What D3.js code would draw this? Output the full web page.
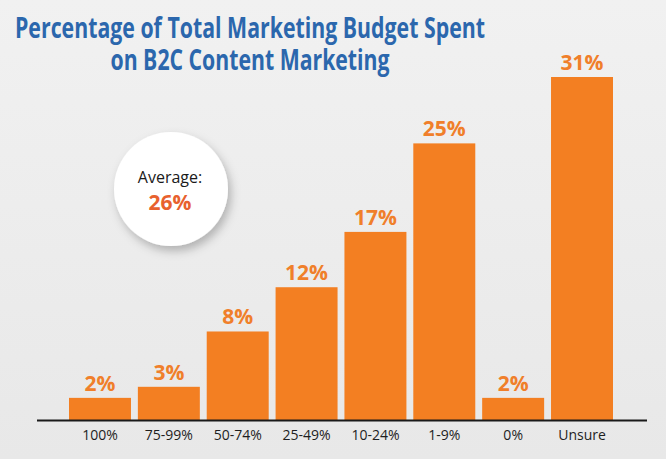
<!DOCTYPE html>
<html>
<head>
<meta charset="utf-8">
<script src="https://cdn.jsdelivr.net/npm/d3@7"></script>
<style>
  html, body { margin: 0; padding: 0; background: #ebebeb; }
  svg { display: block; }
</style>
</head>
<body>
<script>
const categories = ["100%", "75-99%", "50-74%", "25-49%", "10-24%", "1-9%", "0%", "Unsure"];
const values = [2, 3, 8, 12, 17, 25, 2, 31];
const titleLines = ["Percentage of Total Marketing Budget Spent", "on B2C Content Marketing"];
const averageLabel = "Average:";
const averageValue = "26%";

const W = 666, H = 459;
const svg = d3.select("body").append("svg").attr("width", W).attr("height", H);

const defs = svg.append("defs");
const bg = defs.append("linearGradient").attr("id", "bg").attr("x1", 0).attr("y1", 0).attr("x2", 0).attr("y2", 1);
bg.append("stop").attr("offset", "0%").attr("stop-color", "#f1f1f1");
bg.append("stop").attr("offset", "100%").attr("stop-color", "#e8e8e8");
svg.append("rect").attr("width", W).attr("height", H).attr("fill", "url(#bg)");

const shadow = defs.append("filter").attr("id", "shadow").attr("x", "-30%").attr("y", "-30%").attr("width", "170%").attr("height", "170%");
shadow.append("feDropShadow").attr("dx", 3).attr("dy", 5).attr("stdDeviation", 5)
  .attr("flood-color", "#000").attr("flood-opacity", 0.25);

const baseY = 420;
const x = d3.scaleBand().domain(categories).range([69, 613]).paddingInner(0.1).paddingOuter(0);
const y = d3.scaleLinear().domain([0, 31]).range([baseY, 77]);

// title
svg.append("g").selectAll("text").data(titleLines).join("text")
  .attr("x", 250)
  .attr("y", (d, i) => 38 + i * 32)
  .attr("text-anchor", "middle")
  .attr("font-family", "'Open Sans', sans-serif")
  .attr("font-weight", 700)
  .attr("font-size", 29)
  .attr("fill", "#2b67ad")
  .attr("textLength", (d, i) => i === 0 ? 470 : 279)
  .attr("lengthAdjust", "spacingAndGlyphs")
  .text(d => d);

// bars
svg.append("g").selectAll("rect").data(values).join("rect")
  .attr("x", (d, i) => x(categories[i]))
  .attr("y", d => y(d))
  .attr("width", x.bandwidth())
  .attr("height", d => baseY - y(d))
  .attr("fill", "#f37f22");

// value labels
svg.append("g").selectAll("text").data(values).join("text")
  .attr("x", (d, i) => x(categories[i]) + x.bandwidth() / 2)
  .attr("y", d => y(d) - 7)
  .attr("text-anchor", "middle")
  .attr("font-family", "'Open Sans', sans-serif")
  .attr("font-weight", 700)
  .attr("font-size", 21)
  .attr("fill", "#f07f2a")
  .text(d => d + "%");

// axis
const axis = d3.axisBottom(x).tickSize(0).tickPadding(0);
const ag = svg.append("g").attr("transform", `translate(0,${baseY})`).call(axis);
ag.select(".domain").remove();
ag.selectAll("text")
  .attr("y", 20)
  .attr("dy", 0)
  .attr("font-family", "'Open Sans', sans-serif")
  .attr("font-size", 14)
  .attr("fill", "#1e1e1e");
svg.append("line")
  .attr("x1", 37).attr("x2", 647)
  .attr("y1", baseY + 0.5).attr("y2", baseY + 0.5)
  .attr("stroke", "#1a1a1a").attr("stroke-width", 2);

// average circle
const cg = svg.append("g");
cg.append("circle").attr("cx", 171).attr("cy", 189).attr("r", 57)
  .attr("fill", "#ffffff").attr("filter", "url(#shadow)");
cg.append("text").attr("x", 170).attr("y", 183)
  .attr("text-anchor", "middle")
  .attr("font-family", "'Open Sans', sans-serif")
  .attr("font-size", 16)
  .attr("fill", "#1a1a1a")
  .text(averageLabel);
cg.append("text").attr("x", 170).attr("y", 210)
  .attr("text-anchor", "middle")
  .attr("font-family", "'Open Sans', sans-serif")
  .attr("font-weight", 700)
  .attr("font-size", 21)
  .attr("fill", "#e8612e")
  .text(averageValue);
</script>
</body>
</html>
